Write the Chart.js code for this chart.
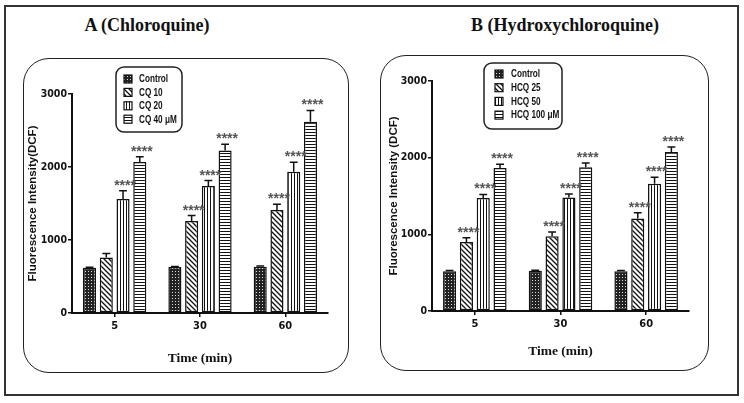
<!DOCTYPE html>
<html>
<head>
<meta charset="utf-8">
<script src="https://cdn.jsdelivr.net/npm/chart.js@4.4.1/dist/chart.umd.min.js"></script>
<style>
  body { margin: 0; background: #fff; }
  #wrap { position: relative; width: 744px; height: 403px; overflow: hidden; }
  .frame { position: absolute; left: 4px; top: 5px; width: 731px; height: 387px; border: 2px solid #333; }
  .panel { position: absolute; border: 1.5px solid #222; border-radius: 26px; }
  .ttl { position: absolute; top: 15px; font: bold 18px 'Liberation Serif', serif; color: #111; white-space: nowrap; transform: translateX(-50%); }
  canvas { position: absolute; top: 0; }
</style>
</head>
<body>
<div id="wrap">
  <div class="frame"></div>
  <div class="panel" style="left:23px;top:58px;width:324px;height:313px;"></div>
  <div class="panel" style="left:380px;top:55px;width:327px;height:314px;"></div>
  <div class="ttl" style="left:147px;">A (Chloroquine)</div>
  <div class="ttl" style="left:565px;">B (Hydroxychloroquine)</div>
  <canvas id="chartA" width="372" height="403" style="left:0px;"></canvas>
  <canvas id="chartB" width="372" height="403" style="left:372px;"></canvas>
</div>
<script>
// categories
const timeLabels = ['5', '30', '60'];

// A: chloroquine (mean, error, significance)
const cqLabels = ['Control', 'CQ 10', 'CQ 20', 'CQ 40 μM'];
const cqControl = [620, 630, 635];
const cq10 = [760, 1260, 1410];
const cq20 = [1560, 1740, 1935];
const cq40 = [2070, 2225, 2620];
const cqControlErr = [8, 8, 8];
const cq10Err = [55, 75, 80];
const cq20Err = [115, 75, 130];
const cq40Err = [70, 85, 155];
const cq10Sig = ['', '****', '****'];
const cq20Sig = ['****', '****', '****'];
const cq40Sig = ['****', '****', '****'];

// B: hydroxychloroquine
const hcqLabels = ['Control', 'HCQ 25', 'HCQ 50', 'HCQ 100 μM'];
const hcqControl = [520, 525, 520];
const hcq25 = [900, 975, 1205];
const hcq50 = [1475, 1480, 1660];
const hcq100 = [1865, 1875, 2075];
const hcqControlErr = [8, 8, 8];
const hcq25Err = [55, 55, 75];
const hcq50Err = [45, 45, 85];
const hcq100Err = [50, 55, 65];
const hcq25Sig = ['****', '****', '****'];
const hcq50Sig = ['****', '****', '****'];
const hcq100Sig = ['****', '****', '****'];

const yTicks = [0, 1000, 2000, 3000];

// hatch patterns
function makePattern(w, h, drawFn) {
  const c = document.createElement('canvas');
  c.width = w; c.height = h;
  const g = c.getContext('2d');
  g.fillStyle = '#fff';
  g.fillRect(0, 0, w, h);
  drawFn(g);
  return g.createPattern(c, 'repeat');
}
const patCross = makePattern(3, 3, g => {
  g.fillStyle = '#222'; g.fillRect(0, 0, 3, 3);
  g.fillStyle = '#ddd'; g.fillRect(1, 1, 1, 1);
});
const patDiag = makePattern(5, 5, g => {
  g.strokeStyle = '#111'; g.lineWidth = 1.3;
  g.beginPath();
  g.moveTo(-1, -1); g.lineTo(6, 6);
  g.moveTo(-1, 4); g.lineTo(1, 6);
  g.moveTo(4, -1); g.lineTo(6, 1);
  g.stroke();
});
const patVert = makePattern(3, 3, g => {
  g.fillStyle = '#111'; g.fillRect(0, 0, 1, 3);
});
const patHorz = makePattern(3, 3, g => {
  g.fillStyle = '#111'; g.fillRect(0, 0, 3, 1);
});
const patterns = [patCross, patDiag, patVert, patHorz];

const narrow = "'Liberation Sans Narrow', 'Arial Narrow', 'DejaVu Sans Condensed', 'Liberation Sans', sans-serif";

// error bars + asterisks
const errorBarPlugin = {
  id: 'errorBars',
  afterDatasetsDraw(chart) {
    const ctx = chart.ctx;
    const y = chart.scales.y;
    chart.data.datasets.forEach((ds, di) => {
      const meta = chart.getDatasetMeta(di);
      meta.data.forEach((bar, i) => {
        const top = y.getPixelForValue(ds.data[i] + ds.err[i]);
        const cap = bar.width * 0.3;
        ctx.save();
        ctx.strokeStyle = '#111';
        ctx.lineWidth = 1.5;
        ctx.beginPath();
        ctx.moveTo(bar.x, bar.y);
        ctx.lineTo(bar.x, top);
        ctx.moveTo(bar.x - cap, top);
        ctx.lineTo(bar.x + cap, top);
        ctx.stroke();
        const s = ds.sig ? ds.sig[i] : '';
        if (s) {
          ctx.fillStyle = '#555';
          ctx.font = "bold 14px 'Liberation Sans', sans-serif";
          ctx.textAlign = 'center';
          ctx.textBaseline = 'alphabetic';
          ctx.fillText(s, bar.x + 2, top - 1);
        }
        ctx.restore();
      });
    });
  }
};

// legend box drawn from dataset labels/patterns
const boxLegendPlugin = {
  id: 'boxLegend',
  afterDraw(chart, args, opts) {
    const ctx = chart.ctx;
    ctx.save();
    ctx.strokeStyle = '#222';
    ctx.lineWidth = 1.5;
    ctx.beginPath();
    ctx.roundRect(opts.x, opts.y, opts.w, opts.h, 8);
    ctx.stroke();
    chart.data.datasets.forEach((ds, i) => {
      const cy = opts.firstY + i * opts.step;
      ctx.fillStyle = ds.backgroundColor;
      ctx.fillRect(opts.sx, cy - 4, 8, 8);
      ctx.strokeStyle = '#111';
      ctx.lineWidth = 1.2;
      ctx.strokeRect(opts.sx, cy - 4, 8, 8);
      ctx.save();
      ctx.translate(opts.tx, cy + 0.5);
      ctx.scale(0.78, 1);
      ctx.fillStyle = '#111';
      ctx.font = "bold 10.5px 'Liberation Sans', sans-serif";
      ctx.textAlign = 'left';
      ctx.textBaseline = 'middle';
      ctx.fillText(ds.label, 0, 0);
      ctx.restore();
    });
    ctx.restore();
  }
};

function buildDatasets(labels, values, errs, sigs) {
  return labels.map((lab, k) => ({
    label: lab,
    data: values[k],
    err: errs[k],
    sig: sigs[k],
    backgroundColor: patterns[k],
    borderColor: '#111',
    borderWidth: 1.5,
    borderSkipped: false,
    categoryPercentage: 0.785,
    barPercentage: 0.78
  }));
}

function makeChart(id, datasets, cfg) {
  return new Chart(document.getElementById(id), {
    type: 'bar',
    data: { labels: timeLabels, datasets: datasets },
    plugins: [errorBarPlugin, boxLegendPlugin],
    options: {
      responsive: false,
      animation: false,
      layout: { padding: cfg.padding },
      plugins: {
        legend: { display: false },
        tooltip: { enabled: false },
        boxLegend: cfg.legend
      },
      scales: {
        x: {
          grid: { display: true, drawOnChartArea: false, drawTicks: true, tickLength: 4, color: '#111', lineWidth: 1.5, offset: false },
          border: { display: true, color: '#111', width: 2 },
          ticks: { color: '#111', font: { family: narrow, weight: 'bold', size: 11 }, padding: 3 },
          title: { display: true, text: 'Time (min)', color: '#111', font: { family: "'Liberation Serif', serif", weight: 'bold', size: 13.5 }, padding: { top: 0, bottom: cfg.xTitlePad } },
          afterFit: s => { s.height = cfg.xHeight; }
        },
        y: {
          min: 0,
          max: 3000,
          afterBuildTicks: s => { s.ticks = yTicks.map(v => ({ value: v })); },
          grid: { display: true, drawOnChartArea: false, drawTicks: true, tickLength: 4, color: '#111', lineWidth: 1.5 },
          border: { display: true, color: '#111', width: 2 },
          ticks: { color: '#111', font: { family: narrow, weight: 'bold', size: 10.5 }, padding: 1, callback: v => String(v) },
          title: { display: true, text: cfg.yTitle, color: '#111', font: { family: "'Liberation Sans', sans-serif", weight: 'bold', size: 11.5 }, padding: { top: cfg.yTitlePad, bottom: 0 } },
          afterFit: s => { s.width = cfg.yWidth; }
        }
      }
    }
  });
}

makeChart('chartA',
  buildDatasets(cqLabels, [cqControl, cq10, cq20, cq40], [cqControlErr, cq10Err, cq20Err, cq40Err], [[], cq10Sig, cq20Sig, cq40Sig]),
  {
    padding: { left: 0, right: 44, top: 94, bottom: 30 },
    xHeight: 60, xTitlePad: 6, yWidth: 72, yTitlePad: 26,
    yTitle: 'Fluorescence Intensity(DCF)',
    legend: { x: 116, y: 67, w: 66, h: 65, sx: 124, tx: 139, firstY: 79, step: 13.4 }
  });

makeChart('chartB',
  buildDatasets(hcqLabels, [hcqControl, hcq25, hcq50, hcq100], [hcqControlErr, hcq25Err, hcq50Err, hcq100Err], [[], hcq25Sig, hcq50Sig, hcq100Sig]),
  {
    padding: { left: 0, right: 55, top: 81, bottom: 37 },
    xHeight: 55, xTitlePad: 6, yWidth: 60, yTitlePad: 15,
    yTitle: 'Fluorescence Intensity (DCF)',
    legend: { x: 112, y: 63, w: 78, h: 66, sx: 123, tx: 139, firstY: 74, step: 13.7 }
  });
</script>
</body>
</html>
